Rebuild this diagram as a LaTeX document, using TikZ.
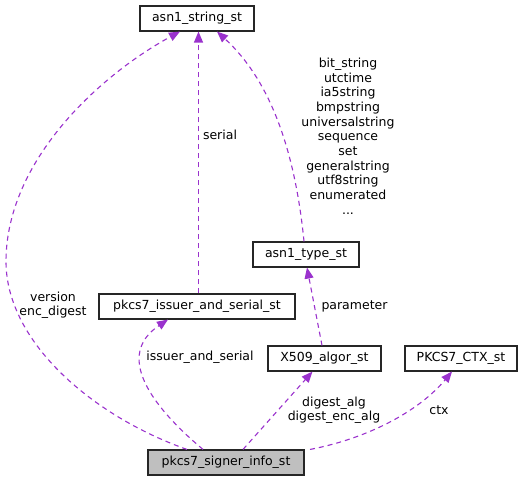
\documentclass[tikz,border=0pt]{standalone}
\usepackage{fontspec}
\setmainfont{DejaVu Sans}
\usetikzlibrary{arrows.meta}
\definecolor{edgecol}{HTML}{9A32CD}
\definecolor{fillgray}{HTML}{BFBFBF}
\tikzset{
  box/.style={draw=black!85, line width=1.1pt, minimum height=25pt, inner sep=0pt, font=\fontsize{12.5}{14.7}\selectfont, fill=white},
  rel/.style={draw=edgecol, line width=1.1pt, dash pattern=on 5pt off 4pt, -{Triangle[length=11pt,width=9pt]}, arrows={[fill=edgecol]}},
  lbl/.style={inner sep=0pt, align=center, font=\fontsize{12.5}{14.2}\selectfont},
}
\begin{document}
\begin{tikzpicture}[x=1pt,y=-1pt]
\useasboundingbox (0,0) rectangle (531,481);
\node[box, minimum width=114pt] (str) at (197,18.5) {asn1\_string\_st};
\node[box, minimum width=106pt] (typ) at (306,254.5) {asn1\_type\_st};
\node[box, minimum width=196pt] (iss) at (197,306.5) {pkcs7\_issuer\_and\_serial\_st};
\node[box, minimum width=113pt] (alg) at (324.5,358.5) {X509\_algor\_st};
\node[box, minimum width=112pt] (ctx) at (461,358.5) {PKCS7\_CTX\_st};
\node[box, minimum width=156pt, fill=fillgray] (sig) at (226,462.5) {pkcs7\_signer\_info\_st};

% version / enc_digest
\draw[rel] ([xshift=-39pt]sig.north) .. controls (90,415) and (5,340) .. (6,260)
  .. controls (7,160) and (100,75) .. ([xshift=-17pt]str.south);
% issuer_and_serial
\draw[rel] ([xshift=-23pt]sig.north) .. controls (150,405) and (115,355) .. ([xshift=-29pt]iss.south);
% serial
\draw[rel] ([xshift=1.5pt]iss.north) -- ([xshift=1.5pt]str.south);
% parameter
\draw[rel] ([xshift=-2.5pt]alg.north) -- ([xshift=1pt]typ.south);
% bit_string ...
\draw[rel] ([xshift=-2pt]typ.north) .. controls (295,150) and (270,80) .. ([xshift=20pt]str.south);
% digest_alg
\draw[rel] ([xshift=17pt]sig.north) -- ([xshift=-12pt]alg.south);
% ctx
\draw[rel] ([xshift=84pt]sig.north) .. controls (370,438) and (420,410) .. ([xshift=-9pt]ctx.south);

\node[lbl] (l1) at (53,305.5) {version\\enc\_digest};
\node[lbl] (l2) at (200,357) {issuer\_and\_serial};
\node[lbl] (l3) at (220,135) {serial};
\node[lbl] (l4) at (354.5,306) {parameter};
\node[lbl] (l5) at (334,410) {digest\_alg\\digest\_enc\_alg};
\node[lbl] (l6) at (439,410) {ctx};
\node[lbl, font=\fontsize{12.5}{14.67}\selectfont] (l7) at (348,136) {bit\_string\\utctime\\ia5string\\bmpstring\\universalstring\\sequence\\set\\generalstring\\utf8string\\enumerated\\...};
\end{tikzpicture}
\end{document}
